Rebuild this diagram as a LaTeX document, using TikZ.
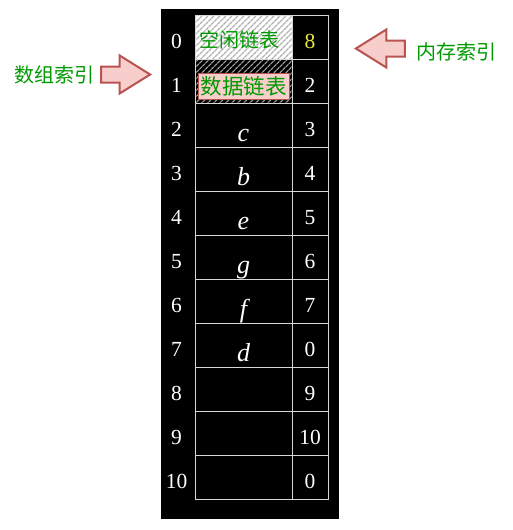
\documentclass[tikz,border=0pt]{standalone}
\usepackage{fontspec}
\setmainfont{Liberation Serif}
\newfontfamily\cjk{Noto Sans CJK SC}
\usetikzlibrary{positioning,shapes.arrows,patterns.meta}
\definecolor{labelgreen}{RGB}{0,153,0}
\definecolor{arrowfill}{RGB}{248,206,204}
\definecolor{arrowdraw}{RGB}{184,84,80}
\definecolor{headyellow}{RGB}{232,232,64}
\definecolor{gridline}{RGB}{215,215,215}

\begin{document}
\begin{tikzpicture}[x=1pt,y=-1pt]
  \tikzset{
    cell/.style={draw=gridline,line width=0.8pt,minimum height=44pt,inner sep=0pt},
    slot/.style={cell,minimum width=97pt},
    nextcell/.style={cell,minimum width=36pt},
    num/.style={text=white,font=\fontsize{21.5}{21.5}\selectfont,anchor=base,inner sep=0pt},
    elem/.style={text=white,font=\fontsize{26}{26}\selectfont\itshape,anchor=base,inner sep=0pt},
    cjklabel/.style={text=labelgreen,font=\cjk\fontsize{20}{20}\selectfont,inner sep=0pt},
    bigarrow/.style={single arrow,draw=arrowdraw,fill=arrowfill,line width=2pt,
      minimum height=49pt,inner xsep=0pt,inner ysep=7pt,anchor=tip,
      single arrow head extend=11pt,single arrow tip angle=64}
  }
  \useasboundingbox (0,0) rectangle (513,530);
  \fill[black] (161,9) rectangle (339,519);
  \fill[white] (195,15) rectangle (292,59);
  \fill[pattern={Lines[angle=45,distance=4pt,line width=1.4pt]},pattern color=gray!60] (195,15) rectangle (292,59);
  \fill[pattern={Lines[angle=45,distance=4pt,line width=1.3pt]},pattern color=gray!75] (195,59) rectangle (292,103);
  \foreach \i in {0,...,10} {
    \node[slot] (d\i) at (243.5,37+44*\i) {};
    \node[nextcell] (n\i) at (310,37+44*\i) {};
    \node[num] (i\i) at (176.5,48+44*\i) {\i};
  }
  \node[num,text=headyellow] (v0) at (310,48) {8};
  \foreach \i/\nxt in {1/2,2/3,3/4,4/5,5/6,6/7,7/0,8/9,9/10,10/0}
    \node[num] (v\i) at (310,48+44*\i) {\nxt};
  \foreach \i/\e in {2/c,3/b,4/e,5/g,6/f,7/d}
    \node[elem] (e\i) at (243.5,53+44*\i) {\e};
  \node[cjklabel] (freelist) at (239,40) {空闲链表};
  \node[cjklabel,fill=arrowfill,draw=arrowdraw,line width=1pt,minimum width=91pt,
    minimum height=26pt,font=\cjk\fontsize{21.5}{21.5}\selectfont] (datalist) at (243.5,86) {数据链表};
  \node[bigarrow] (arrayarrow) at (152,74.5) {};
  \node[bigarrow,shape border rotate=180] (memarrow) at (354,48.5) {};
  \node[cjklabel,left=5pt of arrayarrow.tail] (arraylabel) {数组索引};
  \node[cjklabel,right=10pt of memarrow.tail,yshift=-3pt] (memlabel) {内存索引};
\end{tikzpicture}
\end{document}
